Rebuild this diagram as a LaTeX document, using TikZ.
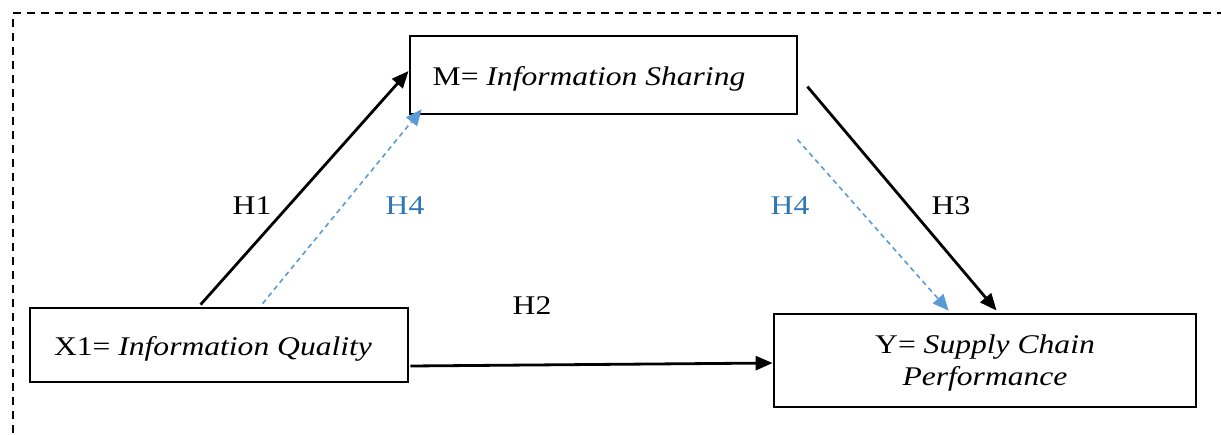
\documentclass[tikz,border=0pt]{standalone}
\usepackage{fontspec}
\setmainfont{Liberation Serif}[FakeStretch=1.17]
\usetikzlibrary{arrows.meta,calc}
\definecolor{pathblue}{RGB}{91,155,213}
\definecolor{labelblue}{RGB}{46,117,182}
\tikzset{
  varbox/.style={draw=black, line width=2.8pt, inner sep=0pt},
  vartext/.style={align=center, inner sep=0pt, font=\fontsize{27}{32}\selectfont},
  direct/.style={line width=2.8pt, -{Triangle[length=17pt,width=14pt]}},
  mediated/.style={pathblue, line width=1.6pt, dash pattern=on 5pt off 4pt,
    -{Triangle[length=16pt,width=14pt]}},
  hyp/.style={font=\fontsize{27}{31}\selectfont},
  hypblue/.style={hyp, text=labelblue},
  frame/.style={line width=1.8pt, dash pattern=on 8pt off 6pt}
}
\begin{document}
\begin{tikzpicture}[x=1pt,y=-1pt]
\useasboundingbox (0,0) rectangle (1221,434);

% outer dashed frame
\draw[frame] (1225,13) -- (13,13) -- (13,440);

% variables
\node[varbox, minimum width=387pt, minimum height=78pt] (M) at (603.5,75) {};
\node[vartext] (Mt) at (589,79) {M= \textit{Information Sharing}};
\node[varbox, minimum width=378pt, minimum height=74pt] (X) at (219,345) {};
\node[vartext] (Xt) at (213,349) {X1= \textit{Information Quality}};
\node[varbox, minimum width=422pt, minimum height=93pt] (Y) at (985,360.5) {};
\node[vartext] (Yt) at (985,363) {Y= \textit{Supply Chain}\\ \textit{Performance}};

% connector end points on the boxes
\coordinate (xh1) at ($(X.north west)+(172,-2)$);
\coordinate (xh4) at ($(X.north west)+(234,-3)$);
\coordinate (mh1) at ($(M.west)+(0,-4)$);
\coordinate (mh4) at ($(M.south west)+(13,-6)$);
\coordinate (mh3) at ($(M.north east)+(9,52)$);
\coordinate (mh4r) at ($(M.south east)+(-1,24)$);
\coordinate (yh3) at ($(Y.north west)+(224,-2)$);
\coordinate (yh4) at ($(Y.north west)+(176,-2)$);
\coordinate (xh2) at ($(X.east)+(1,21)$);
\coordinate (yh2) at ($(Y.west)+(0,2.5)$);

% hypothesised paths
\draw[direct] (xh1) -- (mh1);
\draw[mediated] (xh4) -- (mh4);
\draw[direct] (mh3) -- (yh3);
\draw[mediated] (mh4r) -- (yh4);
\draw[direct] (xh2) -- (yh2);

% path labels
\node[hyp] (h1) at (252,206) {H1};
\node[hypblue] (h4a) at (405,206) {H4};
\node[hypblue] (h4b) at (790,206) {H4};
\node[hyp] (h3) at (951,206) {H3};
\node[hyp] (h2) at (532,306) {H2};
\end{tikzpicture}
\end{document}
